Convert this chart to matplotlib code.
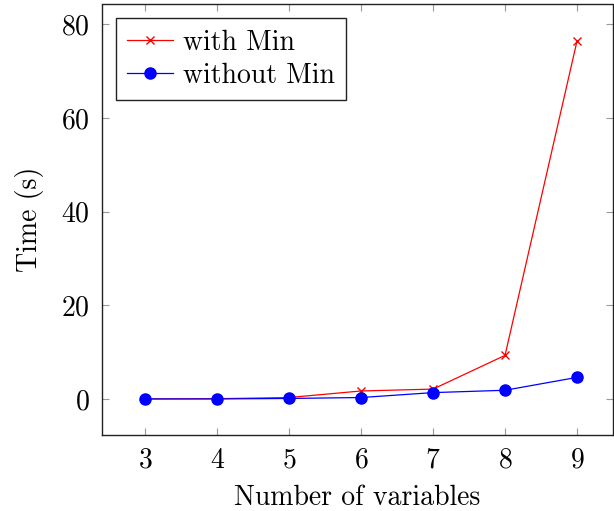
import matplotlib
matplotlib.use("Agg")
import matplotlib.pyplot as plt

n_vars = [3, 4, 5, 6, 7, 8, 9]
with_min = [0.0, 0.05, 0.3, 1.7, 2.1, 9.3, 76.4]
without_min = [0.0, 0.0, 0.1, 0.3, 1.35, 1.85, 4.6]
x_ticks = [3, 4, 5, 6, 7, 8, 9]
y_ticks = [0, 20, 40, 60, 80]

plt.rcParams['font.family'] = 'serif'
plt.rcParams['font.serif'] = ['cmr10']
plt.rcParams['mathtext.fontset'] = 'cm'
plt.rcParams['axes.formatter.use_mathtext'] = True

fig = plt.figure(figsize=(6.14, 5.11), dpi=100)
ax = fig.add_axes([102/614, 1 - 435/511, (613 - 102)/614, (435 - 4.5)/511])

ax.plot(n_vars, with_min, color='red', lw=0.9, marker='x', ms=6, mew=1.0, label='with Min')
ax.plot(n_vars, without_min, color='blue', lw=0.9, marker='o', ms=8, label='without Min')

ax.set_xlim(2.4, 9.5)
ax.set_ylim(-7.7, 84.2)
ax.set_xticks(x_ticks)
ax.set_yticks(y_ticks)
ax.tick_params(direction='in', length=5, width=0.8, color='#999999', labelsize=20,
               top=True, right=True, pad=9)
for s in ax.spines.values():
    s.set_linewidth(1.0)
    s.set_color('#222222')

ax.set_xlabel('Number of variables', fontsize=20, labelpad=8)
ax.set_ylabel('Time (s)', fontsize=20, labelpad=12)

leg = ax.legend(loc='upper left', fontsize=20, fancybox=False, edgecolor='#222222',
                framealpha=1, borderaxespad=0.5, handlelength=1.65, handletextpad=0.35,
                labelspacing=0.25, borderpad=0.4)
leg.get_frame().set_linewidth(1.0)

fig.savefig('out.png', dpi=100)
